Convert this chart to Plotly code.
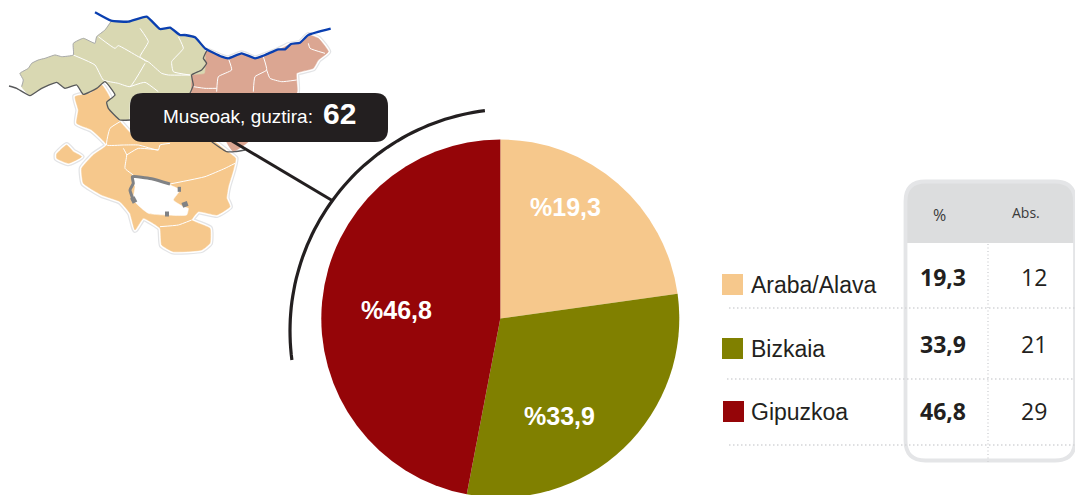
import math
import plotly.graph_objects as go

# ---- data ----
categories = ["Araba/Alava", "Bizkaia", "Gipuzkoa"]
percent_labels = ["19,3", "33,9", "46,8"]
absolute_labels = ["12", "21", "29"]
# slice shares as they are drawn in the picture
slice_shares = [22.8, 30.2, 47.0]
colors = ["#f6c88c", "#808000", "#950508"]
total_label = "62"

W, H = 1075, 530

A = (5, 5); B = (185, 20); C = (45, 80)
map_green = (A, [(50,245),(55,225),(45,205),(70,190),(80,175),(100,165),(120,160),(150,150),(170,155),(205,150),(205,115),(235,100),(270,115),(275,95),(300,75),(318,50),(370,50),(425,35),(465,72),(495,68),(525,90),(565,92),(598,125),(598,205),(560,210),(555,265),(400,265),(375,290),(372,345),(345,345),(310,310),(305,292),(330,270),(300,230),(275,250),(235,268),(215,240),(180,250),(155,232),(110,250),(75,272)])
map_salmon = (B, [(65,92),(110,110),(130,115),(170,100),(210,115),(240,105),(280,90),(310,75),(345,68),(370,45),(400,55),(430,95),(400,120),(385,145),(335,160),(335,220),(20,220),(22,165),(55,135),(55,110)])
map_salmon2 = (C, [(545,185),(610,185),(590,200),(565,215)])
map_orange = (C, [(90,50),(135,40),(170,15),(195,55),(185,75),(225,125),(280,180),(500,180),(540,210),(572,235),(565,270),(550,320),(545,355),(555,380),(515,405),(460,395),(440,420),(495,445),(495,490),(470,510),(385,515),(350,495),(345,445),(295,415),(270,450),(255,400),(225,365),(170,345),(115,310),(110,265),(145,225),(185,195),(140,150),(95,130),(100,90)])
map_orange2 = (C, [(65,195),(85,215),(110,230),(70,250),(35,235),(35,222)])
map_hole = (C, [(262,290),(320,300),(375,315),(405,330),(385,360),(415,380),(430,385),(425,405),(310,400),(265,360),(270,320)])

coast = [(A, [(270,22),(318,47),(370,50),(425,35),(465,72),(495,68),(525,90),(540,90)]),
         (B, [(0,45),(30,52),(60,85),(110,110),(130,115),(170,100),(210,115),(240,105),(280,88),(300,88),(318,72),(345,68),(370,45),(437,26)])]
dark_borders = [
    (A, [(12,243),(35,250),(75,272),(110,250),(155,232),(180,250),(215,240),(235,268),(275,250),(300,230),(330,270),(305,292),(310,310),(345,345),(375,345)]),
    (B, [(65,92),(55,115),(65,130),(50,150),(20,165),(25,195),(15,220)]),
    (C, [(500,185),(545,215),(570,215),(600,210)]),
]
light_border = (A, [(50,245),(55,225),(45,205),(70,190),(80,175),(100,165),(120,160),(150,150),(170,155),(205,150),(205,115),(235,100),(270,115),(275,95),(300,75),(318,50)])
green_inner = [
    [(280,95),(330,130),(340,122),(400,155),(432,172),(470,205),(490,210),(555,210)],
    [(405,70),(430,110),(405,155),(425,170)],
    [(520,95),(535,130),(500,170),(505,200),(555,210)],
    [(205,150),(270,180),(295,225),(340,235),(375,245),(420,175)],
    [(375,245),(420,232),(460,260)],
]
salmon_inner = [
    [(130,115),(140,150),(100,170),(95,215)],
    [(25,200),(60,205),(95,205)],
    [(235,110),(245,150),(210,170),(205,215)],
    [(245,150),(255,175),(290,185),(335,180)],
    [(370,70),(375,85),(420,100)],
]
orange_inner = [
    [(225,125),(195,145),(185,195),(235,195),(280,195),(340,210),(345,195),(375,190)],
    [(235,205),(245,225),(240,265),(265,285)],
    [(245,225),(280,205),(340,210)],
    [(375,312),(480,290),(540,265),(570,250)],
    [(345,440),(400,435),(440,420)],
]
hole_thick = [(265,360),(255,330),(265,310),(262,290),(320,296),(375,312)]
hole_blobs = [[(398,328),(408,328)], [(412,376),(428,370)], [(360,402),(372,402)], [(262,352),(270,368)]]


def pts(g):
    (ox, oy), p = g
    return [ox + a / 3 for a, _ in p], [oy + b / 3 for _, b in p]

fig = go.Figure()
SMOOTH = dict(shape="spline", smoothing=0.4)

def stroke(g, color, width):
    x, y = pts(g)
    fig.add_trace(go.Scatter(x=x, y=y, mode="lines", line=dict(color=color, width=width, **SMOOTH),
                             hoverinfo="skip", showlegend=False))

def poly(g, fill, halo=True):
    o, p = g
    closed = (o, p + p[:1])
    if halo:
        stroke(closed, "#e3e4e6", 6)
        stroke(closed, "#ffffff", 3.5)
    x, y = pts(closed)
    fig.add_trace(go.Scatter(x=x, y=y, mode="lines", fill="toself", fillcolor=fill,
                             line=dict(color=fill, width=0.5, **SMOOTH), hoverinfo="skip", showlegend=False))

poly(map_orange, "#f6c88c")
poly(map_orange2, "#f6c88c")
poly(map_salmon, "#dba692")
poly(map_salmon2, "#dba692", halo=False)
poly(map_green, "#d9d8b2", halo=False)
for l in green_inner:
    stroke((A, l), "#ffffff", 1)
for l in salmon_inner:
    stroke((B, l), "#ffffff", 1)
for l in orange_inner:
    stroke((C, l), "#ffffff", 1)
poly(map_hole, "#ffffff", halo=False)
stroke((C, hole_thick), "#808285", 3)
for l in hole_blobs:
    stroke((C, l), "#808285", 5)
stroke(light_border, "#a9aaad", 1)
for b in dark_borders:
    stroke(b, "#58595b", 1.3)
for c in coast:
    stroke(c, "#0a3fb0", 2.3)

# pie
cx, cy, R = 500.3, 318.5, 179
fig.add_trace(go.Pie(
    values=slice_shares, labels=categories, textinfo="none",
    marker=dict(colors=colors, line=dict(width=0)),
    sort=False, direction="clockwise", rotation=0, showlegend=False, hoverinfo="skip",
    domain=dict(x=[(cx - R) / W, (cx + R) / W], y=[1 - (cy + R) / H, 1 - (cy - R) / H]),
))

# arc round the pie
def arc_path(ax_, ay_, r, a0, a1, n=60):
    out = []
    for i in range(n + 1):
        a = math.radians(a0 + (a1 - a0) * i / n)
        out.append((ax_ + r * math.cos(a), ay_ + r * math.sin(a)))
    return "M" + " L".join(f"{x:.1f},{y:.1f}" for x, y in out)

shapes = [
    dict(type="path", path=arc_path(512, 331, 222, 263, 172.5), line=dict(color="#231f20", width=3.2), layer="above"),
    dict(type="line", x0=232, y0=141, x1=333, y1=201, line=dict(color="#231f20", width=3), layer="above"),
]

def rrect(x0, y0, x1, y1, r, fill=None, line=None, lw=0, bottom=True):
    p = f"M{x0+r},{y0} L{x1-r},{y0} Q{x1},{y0} {x1},{y0+r} "
    if bottom:
        p += f"L{x1},{y1-r} Q{x1},{y1} {x1-r},{y1} L{x0+r},{y1} Q{x0},{y1} {x0},{y1-r} "
    else:
        p += f"L{x1},{y1} L{x0},{y1} "
    p += f"L{x0},{y0+r} Q{x0},{y0} {x0+r},{y0} Z"
    d = dict(type="path", path=p, layer="above", line=dict(width=lw, color=line or "rgba(0,0,0,0)"))
    if fill:
        d["fillcolor"] = fill
    return d

shapes.append(rrect(130, 93, 388, 142, 13, fill="#231f20"))
# table
shapes.append(rrect(906, 182, 1075, 243, 18, fill="#dcddde", bottom=False))
shapes.append(rrect(905.5, 181.5, 1075, 460.5, 20, line="#e4e5e7", lw=3.8))
shapes.append(dict(type="line", x0=988, x1=988, y0=244, y1=464, layer="above",
                   line=dict(color="#d4d5d7", width=1.5, dash="1px,2.5px")))
for y, x0 in ((308, 729), (379, 727), (445, 729)):
    shapes.append(dict(type="line", x0=x0, x1=1075, y0=y, y1=y, layer="above",
                       line=dict(color="#d4d5d7", width=1.5, dash="1.5px,2.5px")))

ann = []
def text(x, y, s, size, color="#231f20", family="Liberation Sans", anchor="center", weight="normal"):
    ann.append(dict(x=x, y=y, xref="x", yref="y", text=s, showarrow=False, xanchor=anchor, yanchor="middle",
                    font=dict(family=family, size=size, color=color, weight=weight)))

text(161, 116, "Museoak, guztira:", 19, "#ffffff", anchor="left")
text(321, 113, total_label, 30, "#ffffff", anchor="left", weight="bold")
text(939, 215, "%", 16, "#3a3a3a", family="Open Sans")
text(1026, 212, "Abs.", 14, "#3a3a3a", family="Open Sans")

pie_label_xy = [(565, 207), (559, 416), (396, 310)]
for (lx, ly), v in zip(pie_label_xy, percent_labels):
    text(lx, ly, "%" + v, 25, "#ffffff", weight="bold")

key_top = [274, 338, 401]
key_x = [722, 722, 723]
num_y = [277, 344, 411]
for i, c in enumerate(categories):
    shapes.append(dict(type="rect", x0=key_x[i], x1=key_x[i] + 21, y0=key_top[i], y1=key_top[i] + 21,
                       fillcolor=colors[i], line=dict(width=0), layer="above"))
    text(749, key_top[i] + 10.5, c, 23, "#231f20", anchor="left")
    text(943, num_y[i], percent_labels[i], 23, "#231f20", family="Open Sans", weight="bold")
    text(1034, num_y[i], absolute_labels[i], 23, "#231f20", family="Open Sans")

text(-2, 476, "arria: 62 museo eta bilduma", 15.6, "#231f20", anchor="left")

ax = dict(visible=False, fixedrange=True)
fig.update_layout(
    width=W, height=H, margin=dict(l=0, r=0, t=0, b=0),
    paper_bgcolor="#ffffff", plot_bgcolor="rgba(0,0,0,0)",
    xaxis=dict(range=[0, W], **ax), yaxis=dict(range=[H, 0], **ax),
    shapes=shapes, annotations=ann, showlegend=False,
)
fig.write_html("out.html", config={"displayModeBar": False},
               post_script="document.documentElement.style.overflow='hidden';document.body.style.overflow='hidden';document.body.style.margin='0';")
